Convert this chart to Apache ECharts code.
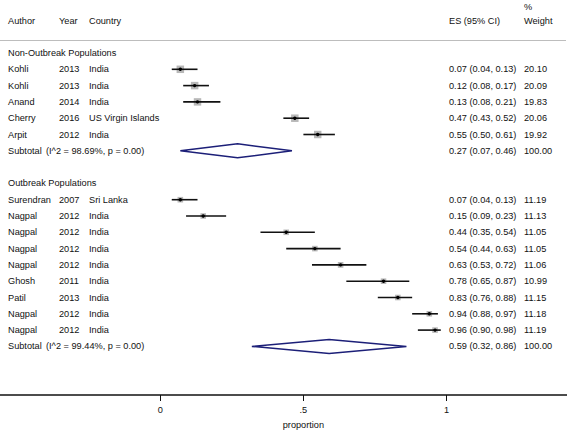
<!DOCTYPE html>
<html>
<head>
<meta charset="utf-8">
<script src="https://cdn.jsdelivr.net/npm/echarts@6/dist/echarts.min.js"></script>
<style>
html,body{margin:0;padding:0;background:#fff;}
#chart{width:567px;height:433px;}
</style>
</head>
<body>
<div id="chart"></div>
<script>
// ---------- DATA ----------
const groupNames = ["Non-Outbreak Populations", "Outbreak Populations"];

const g1Authors   = ["Kohli", "Kohli", "Anand", "Cherry", "Arpit"];
const g1Years     = ["2013", "2013", "2014", "2016", "2012"];
const g1Countries = ["India", "India", "India", "US Virgin Islands", "India"];
const g1ES        = [0.07, 0.12, 0.13, 0.47, 0.55];
const g1Lo        = [0.04, 0.08, 0.08, 0.43, 0.50];
const g1Hi        = [0.13, 0.17, 0.21, 0.52, 0.61];
const g1Weight    = [20.10, 20.09, 19.83, 20.06, 19.92];
const g1Subtotal  = [0.27, 0.07, 0.46];   // es, lo, hi
const g1Het       = "(I^2 = 98.69%, p = 0.00)";

const g2Authors   = ["Surendran", "Nagpal", "Nagpal", "Nagpal", "Nagpal", "Ghosh", "Patil", "Nagpal", "Nagpal"];
const g2Years     = ["2007", "2012", "2012", "2012", "2012", "2011", "2013", "2012", "2012"];
const g2Countries = ["Sri Lanka", "India", "India", "India", "India", "India", "India", "India", "India"];
const g2ES        = [0.07, 0.15, 0.44, 0.54, 0.63, 0.78, 0.83, 0.94, 0.96];
const g2Lo        = [0.04, 0.09, 0.35, 0.44, 0.53, 0.65, 0.76, 0.88, 0.90];
const g2Hi        = [0.13, 0.23, 0.54, 0.63, 0.72, 0.87, 0.88, 0.97, 0.98];
const g2Weight    = [11.19, 11.13, 11.05, 11.05, 11.06, 10.99, 11.15, 11.18, 11.19];
const g2Subtotal  = [0.59, 0.32, 0.86];
const g2Het       = "(I^2 = 99.44%, p = 0.00)";

const tickValues = [0, 0.5, 1];
const tickLabels = ["0", ".5", "1"];
const axisTitle  = "proportion";

// ---------- BUILD ROWS ----------
const f2 = v => v.toFixed(2);
const studies = [];   // [row, es, lo, hi, weight]
const diamonds = [];  // [row, es, lo, hi]
const textRows = [];  // [row, author, year, country, esText, weightText, kind]
let row = 0;
function addGroup(name, au, yr, co, es, lo, hi, w, sub, het) {
  textRows.push([row, name, "", "", "", "", "group"]);
  row++;
  for (let i = 0; i < au.length; i++) {
    studies.push([row, es[i], lo[i], hi[i], w[i]]);
    textRows.push([row, au[i], yr[i], co[i], f2(es[i]) + " (" + f2(lo[i]) + ", " + f2(hi[i]) + ")", f2(w[i]), "study"]);
    row++;
  }
  diamonds.push([row, sub[0], sub[1], sub[2]]);
  textRows.push([row, "Subtotal", het, "", f2(sub[0]) + " (" + f2(sub[1]) + ", " + f2(sub[2]) + ")", "100.00", "sub"]);
  row += 2;
}
addGroup(groupNames[0], g1Authors, g1Years, g1Countries, g1ES, g1Lo, g1Hi, g1Weight, g1Subtotal, g1Het);
addGroup(groupNames[1], g2Authors, g2Years, g2Countries, g2ES, g2Lo, g2Hi, g2Weight, g2Subtotal, g2Het);

// ---------- LAYOUT ----------
const W = 567;
const X0 = 160.3, XS = 286.2;             // px of value 0, px per unit
const XMIN = -X0 / XS, XMAX = (W - X0) / XS;
const ROW0 = 53, ROWH = 16.3, AXISY = 395;
const YMIN = -ROW0 / ROWH, YMAX = (AXISY - ROW0) / ROWH;
const FONT = 'Arial, "Liberation Sans", sans-serif';
const FS = 9.2;
const TXT = '#111';
const maxW = Math.max(...g1Weight, ...g2Weight);

const chart = echarts.init(document.getElementById('chart'), null, {renderer: 'svg'});

function txt(x, y, s, align) {
  return {type: 'text', x: x, y: y, style: {text: s, fill: TXT, font: FS + 'px ' + FONT, align: align || 'left', verticalAlign: 'middle'}};
}

chart.setOption({
  animation: false,
  backgroundColor: '#fff',
  grid: {left: 0, right: 0, top: 0, bottom: 433 - AXISY},
  xAxis: {
    type: 'value', min: XMIN, max: XMAX,
    axisLine: {show: true, onZero: false, lineStyle: {color: '#111', width: 1.5}},
    axisTick: {show: true, customValues: tickValues, length: 6, lineStyle: {color: '#111', width: 1}},
    axisLabel: {show: true, customValues: tickValues, color: TXT, fontSize: FS, fontFamily: FONT, margin: 10,
      formatter: v => { const i = tickValues.findIndex(t => Math.abs(t - v) < 1e-9); return i >= 0 ? tickLabels[i] : ''; }},
    splitLine: {show: false}
  },
  yAxis: {type: 'value', inverse: true, min: YMIN, max: YMAX, show: false},
  graphic: [
    txt(8, 21, "Author"), txt(59, 21, "Year"), txt(89, 21, "Country"),
    txt(449, 21, "ES (95% CI)"), txt(524, 7, "%"), txt(524, 21, "Weight"),
    {type: 'line', shape: {x1: 0, y1: 40.5, x2: 566, y2: 40.5}, style: {stroke: '#bdbdbd', lineWidth: 1}},
    {type: 'text', x: X0 + XS * 0.5, y: 425, style: {text: axisTitle, fill: TXT, font: FS + 'px ' + FONT, align: 'center', verticalAlign: 'middle'}}
  ],
  series: [
    {
      type: 'custom', data: textRows, silent: true,
      encode: {x: [], y: 0},
      renderItem: (params, api) => {
        const d = textRows[params.dataIndex];
        const y = api.coord([0, d[0]])[1];
        const kids = [];
        if (d[6] === 'group') {
          kids.push(txt(8, y, d[1]));
        } else if (d[6] === 'sub') {
          kids.push(txt(8, y, d[1]));
          kids.push(txt(46, y, d[2]));
          kids.push(txt(449, y, d[4]));
          kids.push(txt(524, y, d[5]));
        } else {
          kids.push(txt(8, y, d[1]));
          kids.push(txt(59, y, d[2]));
          kids.push(txt(89, y, d[3]));
          kids.push(txt(449, y, d[4]));
          kids.push(txt(524, y, d[5]));
        }
        return {type: 'group', children: kids};
      }
    },
    {
      type: 'custom', data: studies, silent: true,
      encode: {x: [1, 2, 3], y: 0},
      renderItem: (params, api) => {
        const r = api.value(0);
        const c = api.coord([api.value(1), r]);
        const l = api.coord([api.value(2), r]);
        const h = api.coord([api.value(3), r]);
        const s = 7.5 * Math.sqrt(api.value(4) / maxW);
        return {type: 'group', children: [
          {type: 'rect', shape: {x: c[0] - s / 2, y: c[1] - s / 2, width: s, height: s}, style: {fill: '#b8b8b8'}},
          {type: 'line', shape: {x1: l[0], y1: c[1], x2: h[0], y2: c[1]}, style: {stroke: '#111', lineWidth: 1.6}},
          {type: 'circle', shape: {cx: c[0], cy: c[1], r: 1.7}, style: {fill: '#000'}}
        ]};
      }
    },
    {
      type: 'custom', data: diamonds, silent: true,
      encode: {x: [1, 2, 3], y: 0},
      renderItem: (params, api) => {
        const r = api.value(0);
        const c = api.coord([api.value(1), r]);
        const l = api.coord([api.value(2), r]);
        const h = api.coord([api.value(3), r]);
        const dh = 7;
        return {type: 'polygon', shape: {points: [[l[0], c[1]], [c[0], c[1] - dh], [h[0], c[1]], [c[0], c[1] + dh]]},
          style: {fill: 'none', stroke: '#1c1f78', lineWidth: 1.5}};
      }
    }
  ]
});
</script>
</body>
</html>
